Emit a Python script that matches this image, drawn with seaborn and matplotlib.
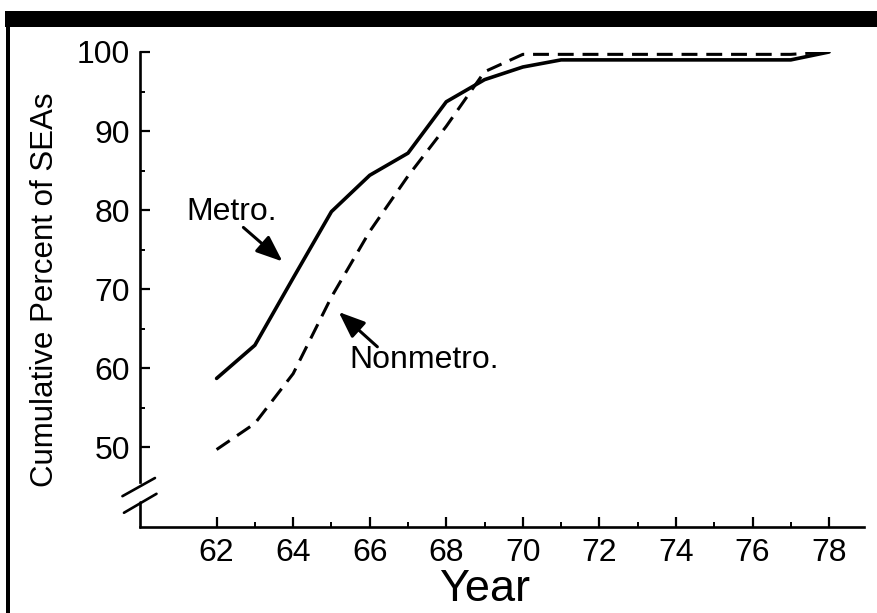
import matplotlib
matplotlib.use("Agg")
import matplotlib.pyplot as plt
import numpy as np
import pandas as pd
import seaborn as sns
from matplotlib.patches import Rectangle

# data
years = list(range(62, 79))
metro = [58.7, 62.9, 71.4, 79.8, 84.4, 87.2, 93.7, 96.5, 98.1, 99.0,
         99.0, 99.0, 99.0, 99.0, 99.0, 99.0, 100.0]
nonmetro = [49.7, 53.0, 59.3, 69.0, 77.3, 84.3, 90.6, 97.5, 99.7, 99.7,
            99.7, 99.7, 99.7, 99.7, 99.7, 99.7, 100.0]

x_ticks = list(range(62, 79, 2))
y_ticks = list(range(50, 101, 10))

df = pd.DataFrame({"Year": years, "Metro.": metro, "Nonmetro.": nonmetro})

sns.set_theme(style="white")
plt.rcParams["font.family"] = ["Liberation Sans", "DejaVu Sans"]
plt.rcParams["text.color"] = "black"

fig = plt.figure(figsize=(8.78, 6.13), dpi=100)
ax = fig.add_axes([0.1595, 0.1403, 0.9835 - 0.1595, 0.9152 - 0.1403])

sns.lineplot(data=df, x="Year", y="Metro.", ax=ax, color="black", linewidth=2.6)
sns.lineplot(data=df, x="Year", y="Nonmetro.", ax=ax, color="black",
             linewidth=2.2)
ax.lines[-1].set_dashes([5.2, 2.9])

ax.set_xlim(60, 78.9)
ax.set_ylim(39.9, 100)
ax.set_xticks(x_ticks)
ax.set_yticks(y_ticks)
ax.set_xticks([y + 1 for y in x_ticks[:-1]], minor=True)
ax.set_yticks([v + 5 for v in y_ticks[:-1]], minor=True)

ax.tick_params(axis="both", which="both", bottom=True, left=True,
               direction="in", color="black")
ax.tick_params(axis="both", which="major", length=7, width=1.6,
               labelsize=23, labelcolor="black")
ax.tick_params(axis="both", which="minor", length=3.5, width=1.4)
ax.tick_params(axis="x", which="major", pad=8)
ax.tick_params(axis="y", which="major", pad=7)

for side in ["top", "right"]:
    ax.spines[side].set_visible(False)
for side in ["left", "bottom"]:
    ax.spines[side].set_color("black")
    ax.spines[side].set_linewidth(1.9)
ax.spines["left"].set_bounds(45.6, 100)

# lower stub of broken y axis and the break marks
ax.plot([60, 60], [39.9, 43.0], color="black", lw=1.9, clip_on=False)
ax.plot([59.54, 60.39], [43.8, 46.1], color="black", lw=1.9, clip_on=False)
ax.plot([59.58, 60.43], [41.7, 44.1], color="black", lw=1.9, clip_on=False)

ax.set_xlabel("Year", fontsize=32.5, labelpad=2, color="black")
ax.xaxis.set_label_coords(0.476, -0.088, transform=ax.transAxes)
ax.xaxis.label.set_va("top")
ax.set_ylabel("Cumulative Percent of SEAs", fontsize=22.5, labelpad=12,
              color="black")

# curve labels with arrows
arrow = dict(arrowstyle="-|>,head_length=0.8,head_width=0.32", color="black",
             lw=2.2, mutation_scale=20, shrinkA=0, shrinkB=0)
ax.text(62.39, 79.7, "Metro.", fontsize=23, ha="center", va="center")
ax.annotate("", xy=(63.72, 73.5), xytext=(62.70, 77.8), arrowprops=arrow)
ax.text(67.43, 61.0, "Nonmetro.", fontsize=23, ha="center", va="center")
ax.annotate("", xy=(65.19, 67.1), xytext=(66.2, 62.7), arrowprops=arrow)

# frame from the printed page
fig.add_artist(Rectangle((0.0057, 0.956), 1.0, 0.026, transform=fig.transFigure,
                         color="black", lw=0))
fig.add_artist(Rectangle((0.007, 0.0), 0.0045, 0.982, transform=fig.transFigure,
                         color="black", lw=0))

fig.savefig("out.png", dpi=100)
